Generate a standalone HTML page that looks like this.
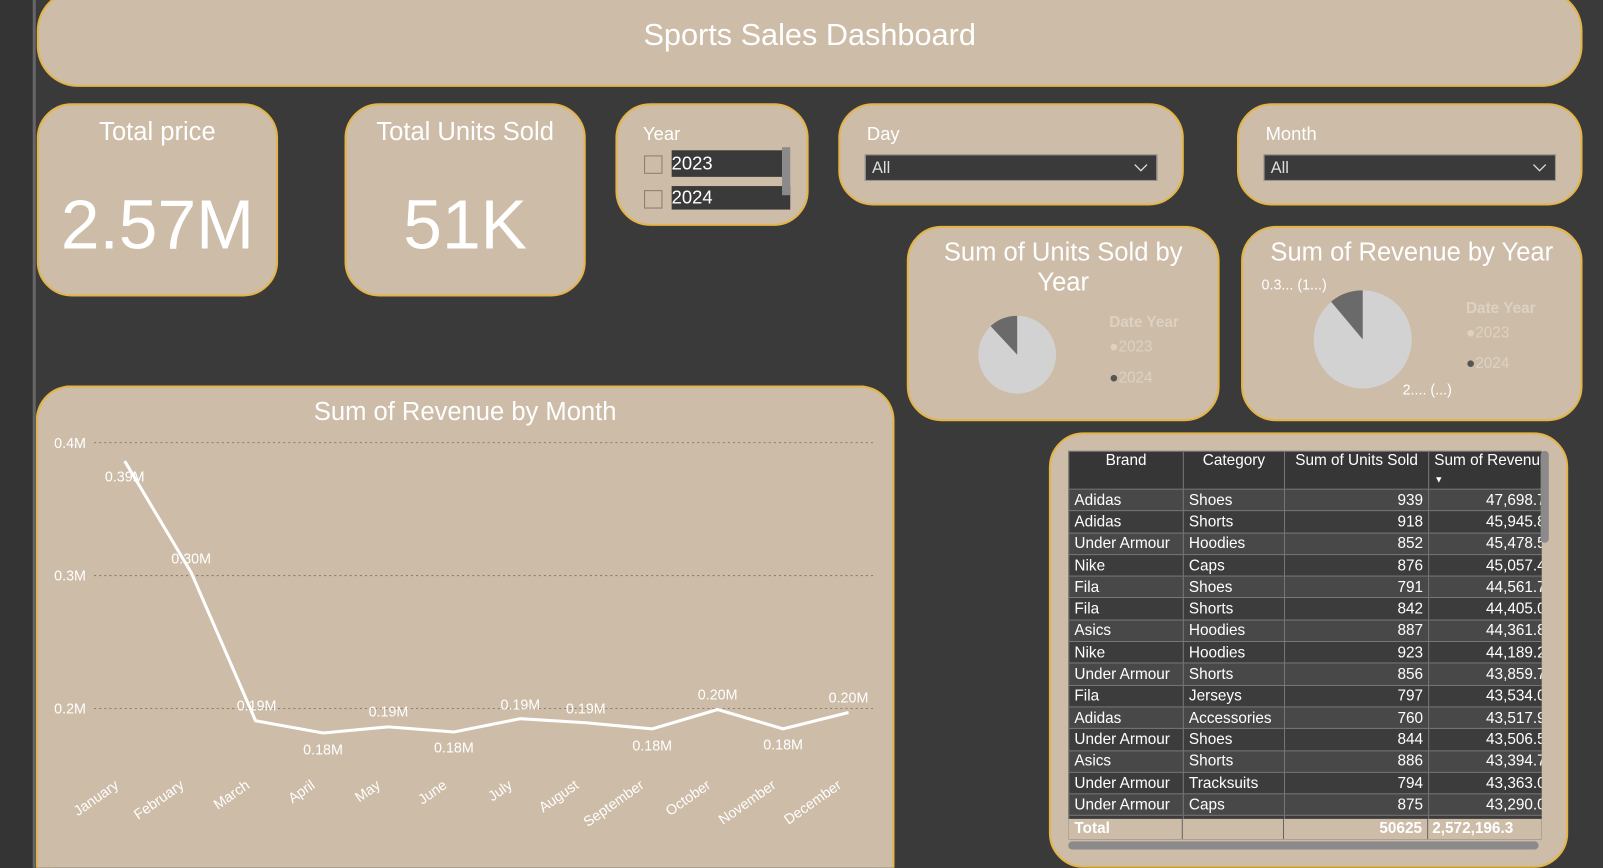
<!DOCTYPE html>
<html><head><style>
body{margin:0;width:1603px;height:868px;background:#3a3a3a;font-family:"Liberation Sans",sans-serif;overflow:hidden;position:relative}
#root{position:absolute;left:0;top:0;width:1568px;height:849px;transform:scale(1.0223);transform-origin:0 0;overflow:hidden}
.p{position:absolute;background:#cdbca7;border:2px solid #e3b447;box-sizing:border-box;border-radius:34px}
.w{color:#fff;position:absolute}
table{border-collapse:collapse;font-size:15px;color:#fff;table-layout:fixed}
td,th{border:1px solid #777;padding:0 5px;height:20.3px;white-space:nowrap;overflow:visible}
th{font-weight:normal;background:#363636;vertical-align:top;text-align:center;line-height:17px}
tr:nth-child(odd) td{background:#3c3c3c}
tr:nth-child(even) td{background:#484848}
.r{text-align:right}
</style></head><body>
<div id="root">
<div style="position:absolute;left:0;top:0;width:33px;height:849px;background:#343434"></div>
<div style="position:absolute;left:32px;top:0;width:3px;height:849px;background:#666"></div>
<div class="p" style="left:36px;top:-10px;width:1512px;height:95px;border-radius:40px"><div class="w" style="width:100%;text-align:center;top:26px;font-size:30px">Sports Sales Dashboard</div></div>
<div class="p" style="left:36px;top:101px;width:236px;height:189px"><div class="w" style="width:100%;text-align:center;top:12px;font-size:25px">Total price</div><div class="w" style="width:100%;text-align:center;top:78px;font-size:68px">2.57M</div></div>
<div class="p" style="left:337px;top:101px;width:236px;height:189px"><div class="w" style="width:100%;text-align:center;top:12px;font-size:25px">Total Units Sold</div><div class="w" style="width:100%;text-align:center;top:78px;font-size:68px">51K</div></div>
<div class="p" style="left:602px;top:101px;width:189px;height:120px">
<div class="w" style="left:25px;top:18px;font-size:18px">Year</div>
<div style="position:absolute;left:26px;top:49px;width:16px;height:16px;border:1px solid #8a7d6c"></div>
<div style="position:absolute;left:26px;top:83px;width:16px;height:16px;border:1px solid #8a7d6c"></div>
<div class="w" style="left:53px;top:44px;width:108px;height:26px;background:#3a3a3a;font-size:18px;line-height:26px">2023</div>
<div class="w" style="left:53px;top:79px;width:116px;height:23px;background:#3a3a3a;font-size:18px;line-height:23px">2024</div>
<div style="position:absolute;left:161px;top:41px;width:8px;height:47px;background:#8a8a8a"></div>
</div>
<div class="p" style="left:820px;top:101px;width:338px;height:100px">
<div class="w" style="left:26px;top:18px;font-size:18px">Day</div>
<div class="w" style="left:24px;top:48px;width:286px;height:26px;background:#3a3a3a;border:1px solid #999;box-sizing:border-box;font-size:16px;line-height:26px;padding-left:6px;color:#ddd">All<svg style="position:absolute;right:8px;top:8px" width="14" height="9"><polyline points="1,1 7,7 13,1" fill="none" stroke="#ddd" stroke-width="1.3"/></svg></div></div>
<div class="p" style="left:1210px;top:101px;width:338px;height:100px">
<div class="w" style="left:26px;top:18px;font-size:18px">Month</div>
<div class="w" style="left:24px;top:48px;width:286px;height:26px;background:#3a3a3a;border:1px solid #999;box-sizing:border-box;font-size:16px;line-height:26px;padding-left:6px;color:#ddd">All<svg style="position:absolute;right:8px;top:8px" width="14" height="9"><polyline points="1,1 7,7 13,1" fill="none" stroke="#ddd" stroke-width="1.3"/></svg></div></div>
<div class="p" style="left:887px;top:221px;width:306px;height:191px">
<div class="w" style="width:100%;text-align:center;top:10px;font-size:25px;line-height:29px">Sum of Units Sold by<br>Year</div>
<svg style="position:absolute;left:66px;top:84px" width="80" height="80"><ellipse cx="40" cy="40" rx="38" ry="38" fill="#d2d2d2"/><path d="M40 40 L40 2 A38 38 0 0 0 14 12 Z" fill="#6a6a6a"/></svg>
<div style="position:absolute;left:196px;top:84px;font-size:15px;font-weight:bold;color:#ddd2c2">Date Year</div>
<div style="position:absolute;left:196px;top:108px;font-size:15px;color:#ddd2c2">●2023</div>
<div style="position:absolute;left:196px;top:138px;font-size:15px;color:#ddd2c2"><span style="color:#555">●</span>2024</div>
</div>
<div class="p" style="left:1214px;top:221px;width:334px;height:191px">
<div class="w" style="width:100%;text-align:center;top:10px;font-size:25px">Sum of Revenue by Year</div>
<div class="w" style="left:18px;top:47px;font-size:14px">0.3... (1...)</div>
<div class="w" style="left:156px;top:150px;font-size:14px">2.... (...)</div>
<svg style="position:absolute;left:68px;top:60px" width="100" height="100"><ellipse cx="49" cy="49" rx="48" ry="48" fill="#d2d2d2"/><path d="M49 49 L49 1 A48 48 0 0 0 18 12 Z" fill="#6a6a6a"/></svg>
<div style="position:absolute;left:218px;top:70px;font-size:15px;font-weight:bold;color:#ddd2c2">Date Year</div>
<div style="position:absolute;left:218px;top:94px;font-size:15px;color:#ddd2c2">●2023</div>
<div style="position:absolute;left:218px;top:124px;font-size:15px;color:#ddd2c2"><span style="color:#555">●</span>2024</div>
</div>
<div class="p" style="left:35px;top:377px;width:840px;height:472px;border-bottom:none;border-radius:34px 34px 0 0">
<div class="w" style="width:100%;text-align:center;top:10px;font-size:25px">Sum of Revenue by Month</div></div>
<svg style="position:absolute;left:0;top:0" width="1568" height="849" font-family="Liberation Sans" fill="#fff">
<g stroke="#8a7e6e" stroke-dasharray="2 3" stroke-width="1"><line x1="92" y1="433" x2="855" y2="433"/><line x1="92" y1="563" x2="855" y2="563"/><line x1="92" y1="693" x2="855" y2="693"/></g>
<g font-size="14"><text x="53" y="438">0.4M</text><text x="53" y="568">0.3M</text><text x="53" y="698">0.2M</text></g>
<polyline fill="none" stroke="#fff" stroke-width="3" stroke-linejoin="round" points="122,451 187,560 250,705 316,717 380,711 444,716 509,703 573,707 638,713 702,694 766,713 830,697"/>
<g font-size="14" text-anchor="middle"><text x="122" y="471">0.39M</text><text x="187" y="551">0.30M</text><text x="251" y="695">0.19M</text><text x="316" y="738">0.18M</text><text x="380" y="701">0.19M</text><text x="444" y="736">0.18M</text><text x="509" y="694">0.19M</text><text x="573" y="698">0.19M</text><text x="638" y="734">0.18M</text><text x="702" y="684">0.20M</text><text x="766" y="733">0.18M</text><text x="830" y="687">0.20M</text></g>
<g font-size="14" text-anchor="end"><text transform="translate(117,770) rotate(-35)">January</text><text transform="translate(181,770) rotate(-35)">February</text><text transform="translate(245,770) rotate(-35)">March</text><text transform="translate(309,770) rotate(-35)">April</text><text transform="translate(373,770) rotate(-35)">May</text><text transform="translate(438,770) rotate(-35)">June</text><text transform="translate(502,770) rotate(-35)">July</text><text transform="translate(567,770) rotate(-35)">August</text><text transform="translate(631,770) rotate(-35)">September</text><text transform="translate(696,770) rotate(-35)">October</text><text transform="translate(760,770) rotate(-35)">November</text><text transform="translate(824,770) rotate(-35)">December</text></g>
</svg>
<div class="p" style="left:1026px;top:423px;width:508px;height:426px"></div>
<div style="position:absolute;left:1045px;top:441px;width:463px;height:380px;overflow:hidden;background:#3c3c3c">
<table style="width:472px">
<colgroup><col style="width:112px"><col style="width:99px"><col style="width:141px"><col style="width:120px"></colgroup>
<tr><th style="height:24px">Brand</th><th>Category</th><th>Sum of Units Sold</th><th style="text-align:left">Sum of Revenue<br><span style="font-size:9px">&#9660;</span></th></tr>
<tr><td>Adidas</td><td>Shoes</td><td class="r">939</td><td class="r">47,698.7</td></tr>
<tr><td>Adidas</td><td>Shorts</td><td class="r">918</td><td class="r">45,945.8</td></tr>
<tr><td>Under Armour</td><td>Hoodies</td><td class="r">852</td><td class="r">45,478.5</td></tr>
<tr><td>Nike</td><td>Caps</td><td class="r">876</td><td class="r">45,057.4</td></tr>
<tr><td>Fila</td><td>Shoes</td><td class="r">791</td><td class="r">44,561.7</td></tr>
<tr><td>Fila</td><td>Shorts</td><td class="r">842</td><td class="r">44,405.0</td></tr>
<tr><td>Asics</td><td>Hoodies</td><td class="r">887</td><td class="r">44,361.8</td></tr>
<tr><td>Nike</td><td>Hoodies</td><td class="r">923</td><td class="r">44,189.2</td></tr>
<tr><td>Under Armour</td><td>Shorts</td><td class="r">856</td><td class="r">43,859.7</td></tr>
<tr><td>Fila</td><td>Jerseys</td><td class="r">797</td><td class="r">43,534.0</td></tr>
<tr><td>Adidas</td><td>Accessories</td><td class="r">760</td><td class="r">43,517.9</td></tr>
<tr><td>Under Armour</td><td>Shoes</td><td class="r">844</td><td class="r">43,506.5</td></tr>
<tr><td>Asics</td><td>Shorts</td><td class="r">886</td><td class="r">43,394.7</td></tr>
<tr><td>Under Armour</td><td>Tracksuits</td><td class="r">794</td><td class="r">43,363.0</td></tr>
<tr><td>Under Armour</td><td>Caps</td><td class="r">875</td><td class="r">43,290.0</td></tr>
<tr><td>Adidas</td><td>Socks</td><td class="r">815</td><td class="r">42,617.0</td></tr>
</table>
<div style="position:absolute;left:0;top:360px;width:463px;height:20px;background:#cdbca7;color:#fff;font-weight:bold;font-size:15px;line-height:20px">
<span style="position:absolute;left:6px">Total</span>
<span style="position:absolute;left:111px;top:0;width:1px;height:20px;background:#666"></span>
<span style="position:absolute;left:210px;top:0;width:1px;height:20px;background:#666"></span>
<span style="position:absolute;right:117px">50625</span>
<span style="position:absolute;left:351px;top:0;width:1px;height:20px;background:#666"></span>
<span style="position:absolute;left:356px">2,572,196.3</span></div>
</div>
<div style="position:absolute;left:1507px;top:441px;width:8px;height:90px;background:#8a8a8a;border-radius:4px"></div>
<div style="position:absolute;left:1045px;top:823px;width:460px;height:8px;background:#8a8a8a;border-radius:4px"></div>
</div>
</body></html>
